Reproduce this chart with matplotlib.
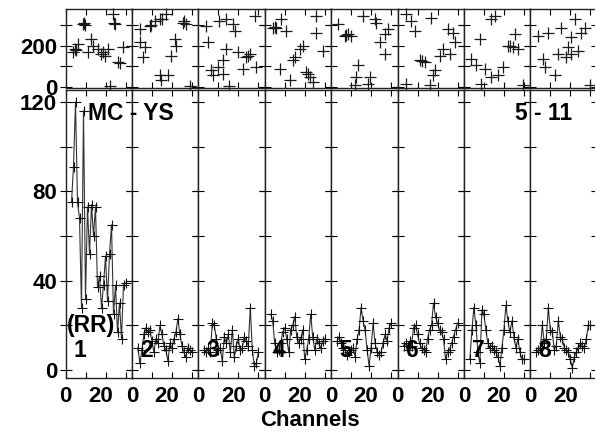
import matplotlib
matplotlib.use("Agg")
import matplotlib.pyplot as plt
import numpy as np
from matplotlib.transforms import ScaledTranslation

# channel axis for the lower panels
channels = np.arange(3, 31)

# lower panels: counts per channel
counts = [
    [75, 91, 120, 75, 68, 28, 116, 32, 73, 52, 74, 60, 73, 37, 42, 28, 38, 51, 31, 52, 65, 25, 38, 17, 30, 14, 38, 39],
    [10, 3, 9, 16, 19, 17, 18, 13, 8, 14, 12, 20, 16, 11, 9, 4, 12, 10, 14, 17, 23, 16, 11, 8, 6, 10, 9, 8],
    [9, 8, 10, 8, 21, 20, 14, 9, 10, 4, 15, 12, 16, 8, 18, 6, 11, 14, 9, 10, 15, 13, 11, 28, 9, 2, 3, 8],
    [25, 22, 12, 8, 9, 12, 17, 19, 14, 8, 18, 20, 24, 15, 12, 14, 18, 5, 9, 14, 25, 15, 9, 14, 12, 10, 13, 14],
    [13, 15, 12, 10, 9, 7, 8, 9, 10, 6, 14, 18, 28, 22, 18, 9, 2, 10, 21, 12, 8, 7, 8, 12, 16, 13, 19, 21],
    [11, 12, 9, 13, 11, 19, 20, 16, 12, 10, 9, 8, 14, 18, 20, 30, 24, 21, 18, 17, 14, 5, 8, 9, 12, 15, 18, 21],
    [5, 18, 28, 20, 8, 3, 27, 25, 18, 12, 10, 11, 9, 8, 6, 2, 10, 18, 29, 22, 17, 22, 15, 10, 14, 8, 5, 5],
    [8, 9, 10, 20, 12, 14, 28, 18, 17, 9, 11, 22, 15, 14, 10, 9, 8, 5, 1, 6, 8, 10, 12, 11, 10, 14, 20, 20],
]

# upper strip: scattered points per panel
top_x = [
    [8.7, 9.5, 9.0, 23.7, 24.0, 24.5, 4.5, 3.7, 5.0, 6.2, 12.8, 13.7, 11.2, 16.2, 17.8, 18.5, 19.5, 21.2, 28.7, 26.2, 27.0, 22.0],
    [3.8, 8.8, 9.5, 11.3, 13.8, 15.0, 17.1, 25.5, 26.2, 27.1, 3.8, 6.3, 5.5, 21.3, 22.1, 19.6, 13.8, 14.6, 18.0, 28.8],
    [3.9, 10.6, 13.9, 17.3, 18.1, 28.1, 4.8, 13.9, 19.8, 24.0, 25.6, 24.8, 12.3, 9.8, 6.4, 7.3, 12.3, 22.3, 28.9, 15.6],
    [4.1, 5.0, 5.7, 8.2, 10.7, 25.7, 25.7, 19.0, 17.4, 14.9, 14.1, 29.0, 7.4, 12.4, 20.7, 21.5, 22.4, 24.0],
    [3.4, 6.7, 7.5, 8.4, 10.0, 15.9, 21.7, 22.5, 28.4, 26.7, 24.2, 26.7, 13.4, 12.5, 19.2, 11.7, 18.4],
    [4.3, 6.8, 8.5, 16.8, 25.2, 27.7, 28.5, 22.7, 26.0, 21.0, 11.0, 12.0, 13.5, 18.5, 17.7, 4.3, 16.0],
    [15.3, 13.6, 7.8, 25.3, 22.0, 23.0, 24.5, 27.0, 3.6, 6.1, 10.3, 8.6, 13.6, 17.0, 19.5, 29.5],
    [3.8, 8.8, 15.4, 22.1, 27.1, 20.4, 25.4, 13.8, 18.8, 23.8, 20.4, 17.9, 6.3, 7.1, 12.1, 29.6],
]
top_y = [
    [303, 300, 310, 351, 311, 305, 184, 168, 178, 208, 232, 200, 168, 184, 160, 170, 152, 184, 192, 121, 118, 8],
    [279, 295, 300, 319, 327, 330, 351, 311, 318, 303, 216, 192, 144, 232, 200, 152, 57, 33, 57, 5],
    [295, 319, 327, 303, 271, 343, 216, 184, 168, 144, 160, 150, 129, 97, 81, 57, 65, 89, 97, 5],
    [287, 290, 287, 327, 271, 343, 263, 200, 184, 144, 129, 176, 89, 33, 73, 62, 49, 25],
    [303, 248, 252, 256, 248, 343, 327, 311, 279, 256, 216, 160, 105, 49, 49, 10, 17],
    [351, 319, 271, 335, 279, 263, 216, 184, 160, 152, 129, 126, 121, 81, 57, 17, 10],
    [343, 327, 232, 256, 200, 196, 192, 184, 137, 105, 89, 17, 49, 57, 97, 10],
    [248, 263, 287, 327, 287, 240, 263, 160, 192, 176, 160, 144, 137, 97, 57, 10],
]

panel_labels = ["1", "2", "3", "4", "5", "6", "7", "8"]

plt.rcParams["font.family"] = "Liberation Sans"
plt.rcParams["font.weight"] = "bold"

W, H = 595, 432
fig = plt.figure(figsize=(W / 100, H / 100), dpi=100)

left0 = 65.5
pw = 66.4
tick_fs = 16

for k in range(8):
    x0 = (left0 + k * pw) / W
    axt = fig.add_axes([x0, 1 - 87.5 / H, pw / W, 78.5 / H])
    axb = fig.add_axes([x0, 1 - 378 / H, pw / W, 288 / H])

    # upper strip
    axt.plot(top_x[k], top_y[k], "+", color="#1a1a1a", ms=8, mew=0.9, clip_on=False)
    axt.set_xlim(0, 33.2)
    axt.set_ylim(-1, 376)
    axt.set_xticks([0, 10, 20, 30])
    axt.set_xticklabels([])
    axt.set_yticks([0, 100, 200, 300])
    axt.tick_params(axis="x", direction="in", top=True, bottom=True, length=4.5, width=0.8)
    axt.tick_params(axis="y", direction="inout", left=True, right=True, length=8, width=0.8,
                    labelsize=tick_fs, pad=2)
    if k == 0:
        axt.set_yticklabels(["0", "", "200", ""])
    else:
        axt.set_yticklabels([])

    # lower panel
    axb.plot(channels, counts[k], "-", color="#333333", lw=0.8)
    axb.plot(channels, counts[k], "+", color="#111111", ms=7, mew=0.8)
    axb.set_xlim(0, 33.2)
    axb.set_ylim(-3.5, 125.3)
    axb.set_xticks([0, 10, 20, 30])
    axb.set_xticklabels(["0", "", "20", ""])
    axb.set_yticks(range(0, 121, 20))
    axb.tick_params(axis="x", direction="in", top=True, bottom=True, length=4.5, width=0.8,
                    labelsize=tick_fs, pad=6)
    axb.tick_params(axis="y", direction="inout", left=True, right=True, length=8, width=0.8,
                    labelsize=tick_fs, pad=2)
    for lab in axb.get_xticklabels():
        if lab.get_text() == "20":
            lab.set_transform(lab.get_transform() + ScaledTranslation(-5 / 100, 0, fig.dpi_scale_trans))
    if k == 0:
        axb.set_yticklabels(["0", "", "40", "", "80", "", "120"])
        axb.text(7.0, 9, panel_labels[k], ha="center", va="center", fontsize=16.5)
        axb.text(13.0, 20, "(RR)", ha="center", va="center", fontsize=16.5, clip_on=False)
    else:
        axb.set_yticklabels([])
        axb.text(7.2, 8.6, panel_labels[k], ha="center", va="center", fontsize=16.5)

    for ax in (axt, axb):
        for sp in ax.spines.values():
            sp.set_linewidth(1.0)
            sp.set_color("#222222")

fig.text(88 / W, 1 - 113 / H, "MC - YS", ha="left", va="center", fontsize=16.5)
fig.text(515 / W, 1 - 113 / H, "5 - 11", ha="left", va="center", fontsize=16.5)
fig.text(310 / W, 1 - 420 / H, "Channels", ha="center", va="center", fontsize=16)

fig.savefig("out.png", dpi=100)
